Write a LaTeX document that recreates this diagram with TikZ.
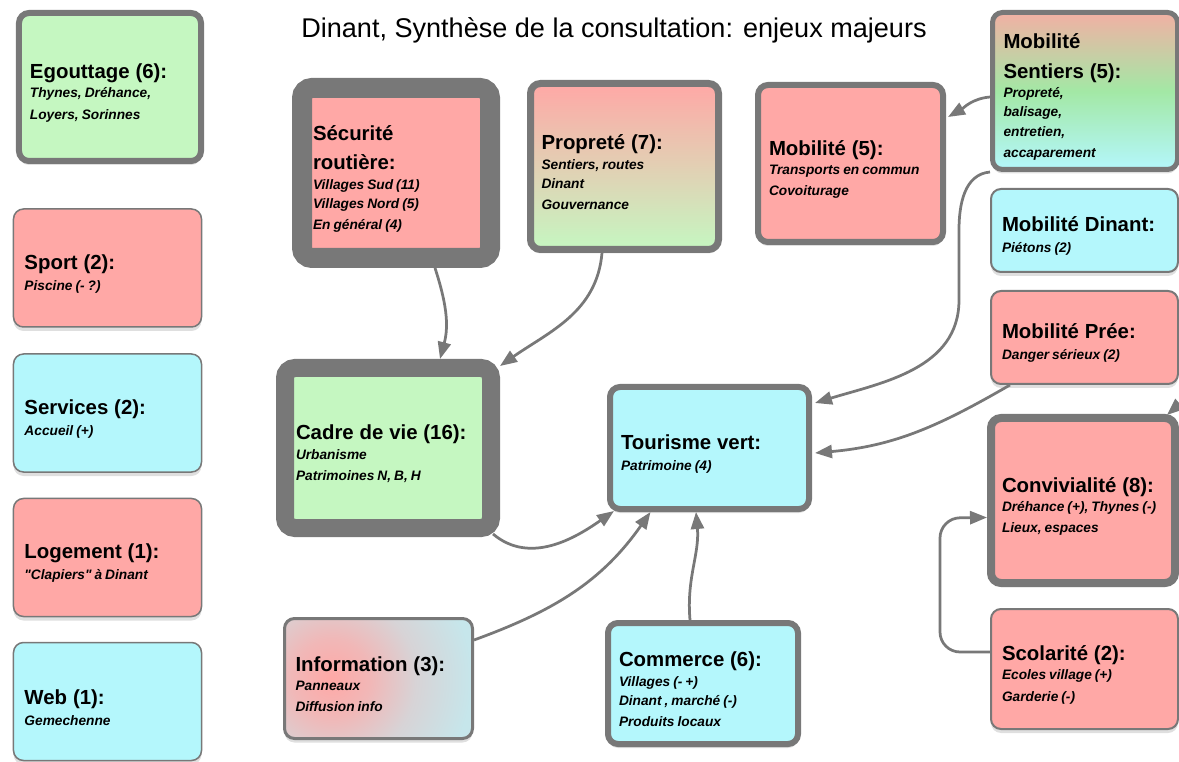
\documentclass[tikz,border=0pt]{standalone}
\usepackage{fontspec}
\setmainfont{Liberation Sans}
\usetikzlibrary{arrows.meta,shadows}
\definecolor{boxred}{RGB}{255,168,166}
\definecolor{boxgreen}{RGB}{197,247,193}
\definecolor{boxcyan}{RGB}{180,247,252}
\definecolor{rim}{RGB}{120,120,120}
\definecolor{infoblue}{RGB}{198,230,235}
\definecolor{sentop}{RGB}{242,176,164}
\definecolor{senmid}{RGB}{163,232,165}
\pgfdeclareradialshading{infoglow}{\pgfpoint{0bp}{0bp}}{color(0bp)=(boxred); color(7bp)=(boxred!75!infoblue);
  color(15bp)=(boxred!30!infoblue); color(25bp)=(infoblue); color(50bp)=(infoblue)}
\newcommand\hd{\fontsize{11.6}{16.8}\selectfont\bfseries}
\newcommand\sbt{\fontsize{7.8}{11}\selectfont\bfseries\itshape\spaceskip=.22em plus .1em}
\begin{document}
\begin{tikzpicture}[x=.2mm,y=-.2mm,
  box/.style 2 args={draw=rim,rounded corners=2mm,minimum width=#1,minimum height=#2,
    text width=#1-4.4mm,align=left,inner sep=0pt,execute at begin node={\rule{0pt}{5.3mm}},
    drop shadow={opacity=.25,shadow xshift=0mm,shadow yshift=-.8mm}},
  bw/.style={line width=#1},
  link/.style={draw=rim,line width=.55mm,-{Triangle[length=3.4mm,width=2.6mm]}}]
\useasboundingbox (0,0) rectangle (1179,762);
\clip (0,0) rectangle (1179,762);
\node (ttl) at (614,30) {\fontsize{15.4}{18}\selectfont Dinant, Synthèse de la consultation: enjeux majeurs};
% colonne de gauche
\node[box={36.4mm}{29.6mm},bw=1.2mm,fill=boxgreen] (ego) at (110,87) {\hd Egouttage (6):\par\sbt Thynes, Dréhance,\\Loyers, Sorinnes};
\foreach \n/\y/\c/\h/\t in {spo/268/boxred/Sport (2):/Piscine (- ?),
  ser/413/boxcyan/Services (2):/Accueil (+),
  log/557.5/boxred/Logement (1):/\textquotedbl Clapiers\textquotedbl{} à Dinant,
  web/701.5/boxcyan/Web (1):/Gemechenne}
  \node[box={37.6mm}{23.6mm},bw=.3mm,fill=\c] (\n) at (107.5,\y) {\hd \h\endgraf\sbt \t};
% milieu
\node[box={37.6mm}{34mm},bw=4mm,fill=boxred] (sec) at (396,173) {\hd Sécurité\\routière:\par\sbt Villages Sud (11)\\Villages Nord (5)\\En général (4)};
\node[box={37.6mm}{33.2mm},bw=1.4mm,top color=boxred,bottom color=boxgreen] (pro) at (624.5,166.5) {\hd Propreté (7):\par\sbt Sentiers, routes\\Dinant\\Gouvernance};
\node[box={37mm}{31.4mm},bw=1.2mm,fill=boxred] (mob) at (850.5,163.5) {\hd Mobilité (5):\par\sbt Transports en commun\\Covoiturage};
\node[box={41.2mm}{32mm},bw=3.6mm,fill=boxgreen] (cad) at (388,448) {\hd Cadre de vie (16):\par\sbt Urbanisme\\Patrimoines N, B, H};
\node[box={39.8mm}{24.4mm},bw=1.2mm,fill=boxcyan] (tou) at (709.5,448) {\hd Tourisme vert:\par\sbt Patrimoine (4)};
\node[box={37.6mm}{24mm},bw=.6mm,fill=infoblue,
  path picture={\shade[shading=infoglow] ([xshift=-9.6mm]path picture bounding box.center) circle (28mm);}]
  (inf) at (378.5,678.5) {\hd Information (3):\par\sbt Panneaux\\Diffusion info};
\node[box={38mm}{24.2mm},bw=1.2mm,fill=boxcyan] (com) at (703,683.5) {\hd Commerce (6):\par\sbt Villages (- +)\\Dinant , marché (-)\\Produits locaux};
% colonne de droite
\node[box={37mm}{31.4mm},bw=1mm,top color=sentop,bottom color=boxcyan,middle color=senmid] (sen) at (1085,91) {\hd Mobilité\\Sentiers (5):\par\sbt Propreté,\\balisage,\\entretien,\\accaparement};
\node[box={37.4mm}{16.6mm},bw=.4mm,fill=boxcyan] (din) at (1084.5,230.5) {\hd Mobilité Dinant:\par\sbt Piétons (2)};
\node[box={37.4mm}{18.6mm},bw=.4mm,fill=boxred] (pre) at (1084.5,337.5) {\hd Mobilité Prée:\par\sbt Danger sérieux (2)};
\node[box={36.8mm}{33mm},bw=1.6mm,fill=boxred] (con) at (1083,500.5) {\hd Convivialité (8):\par\sbt Dréhance (+), Thynes (-)\\Lieux, espaces};
\node[box={37.4mm}{24mm},bw=.4mm,fill=boxred] (sco) at (1084.5,669) {\hd Scolarité (2):\par\sbt Ecoles village (+)\\Garderie (-)};
% liens
\draw[link] ([xshift=7.8mm]sec.south) to[out=-72,in=75] ([xshift=10.4mm]cad.north);
\draw[link] ([xshift=-4.5mm]pro.south) to[out=-95,in=35] ([xshift=0mm,yshift=-1.4mm]cad.north east);
\draw[link] ([yshift=-1.2mm]sen.west) to[out=185,in=30] ([xshift=.4mm,yshift=9.3mm]mob.east);
\draw[link] (sen.south west) to[out=185,in=90] (959,230) -- (959,300) to[out=-90,in=17] ([xshift=.6mm,yshift=9mm]tou.east);
\draw[link] (sen.south east) .. controls (1260,175) and (1230,360) .. ([xshift=-2.4mm,yshift=-.2mm]con.north east);
\draw[link] ([xshift=4mm]pre.south west) to[out=-150,in=5] ([xshift=.6mm,yshift=-1mm]tou.east);
\draw[link] ([xshift=-1.4mm,yshift=.6mm]cad.south east) to[out=-40,in=215] ([xshift=1.4mm,yshift=.2mm]tou.south west);
\draw[link] ([yshift=7.7mm]inf.east) to[out=20,in=-125] ([xshift=-11.8mm]tou.south);
\draw[link] ([xshift=-2.6mm]com.north) to[out=95,in=-85] ([xshift=-2.7mm]tou.south);
\draw[link,rounded corners=4mm] ([yshift=3.4mm]sco.west) -- (940,652) -- (940,518) -- ([yshift=-3.4mm]con.west);
\end{tikzpicture}
\end{document}
